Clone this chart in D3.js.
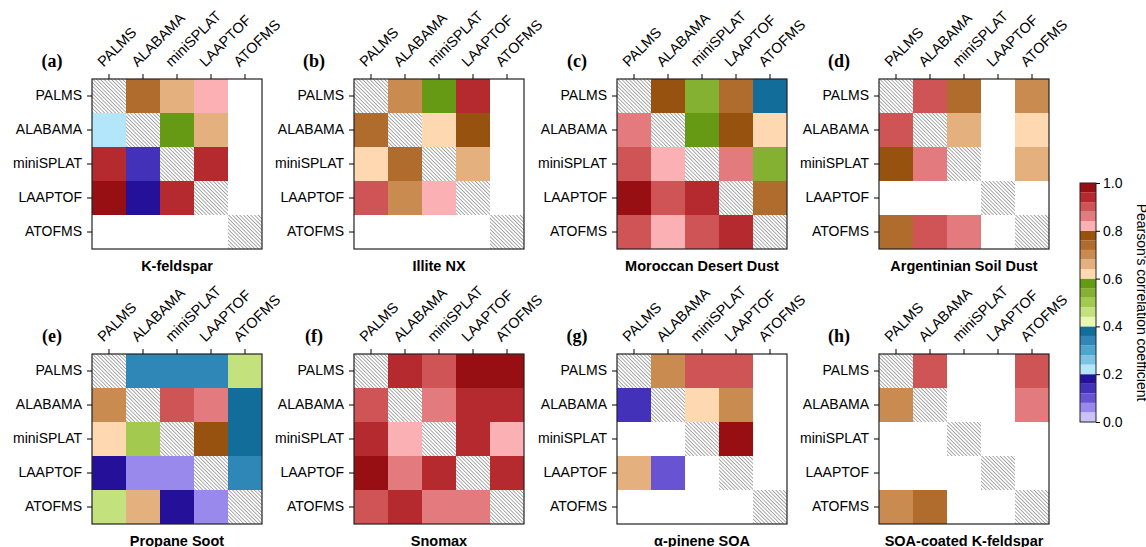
<!DOCTYPE html>
<html>
<head>
<meta charset="utf-8">
<script src="https://cdn.jsdelivr.net/npm/d3@7"></script>
<style>
  body { margin: 0; background: #fff; }
  text { font-family: "Liberation Sans", Arial, sans-serif; }
</style>
</head>
<body>
<svg id="chart" width="1146" height="547"></svg>
<script>
// instruments, same order on both axes
const instruments = ["PALMS", "ALABAMA", "miniSPLAT", "LAAPTOF", "ATOFMS"];

// panel letters and titles
const letters = ["(a)", "(b)", "(c)", "(d)", "(e)", "(f)", "(g)", "(h)"];
const titles = ["K-feldspar", "Illite NX", "Moroccan Desert Dust", "Argentinian Soil Dust",
                "Propane Soot", "Snomax", "\u03b1-pinene SOA", "SOA-coated K-feldspar"];

// correlation matrices, rows x columns; null = no data, diagonal is hatched
const kFeldspar = [
  [null, 0.74, 0.66, 0.82, null],
  [0.22, null, 0.58, 0.66, null],
  [0.94, 0.14, null, 0.94, null],
  [0.98, 0.18, 0.94, null, null],
  [null, null, null, null, null]
];
const illiteNX = [
  [null, 0.70, 0.58, 0.94, null],
  [0.74, null, 0.62, 0.78, null],
  [0.62, 0.74, null, 0.66, null],
  [0.90, 0.70, 0.82, null, null],
  [null, null, null, null, null]
];
const moroccanDust = [
  [null, 0.78, 0.54, 0.74, 0.38],
  [0.86, null, 0.58, 0.78, 0.62],
  [0.90, 0.82, null, 0.86, 0.54],
  [0.98, 0.90, 0.94, null, 0.74],
  [0.90, 0.82, 0.90, 0.94, null]
];
const argentinianDust = [
  [null, 0.90, 0.74, null, 0.70],
  [0.90, null, 0.66, null, 0.62],
  [0.78, 0.86, null, null, 0.66],
  [null, null, null, null, null],
  [0.74, 0.90, 0.86, null, null]
];
const propaneSoot = [
  [null, 0.34, 0.34, 0.34, 0.46],
  [0.70, null, 0.90, 0.86, 0.38],
  [0.62, 0.50, null, 0.78, 0.38],
  [0.18, 0.06, 0.06, null, 0.34],
  [0.46, 0.66, 0.18, 0.06, null]
];
const snomax = [
  [null, 0.94, 0.90, 0.98, 0.98],
  [0.90, null, 0.86, 0.94, 0.94],
  [0.94, 0.82, null, 0.94, 0.82],
  [0.98, 0.86, 0.94, null, 0.94],
  [0.90, 0.94, 0.86, 0.86, null]
];
const pineneSOA = [
  [null, 0.70, 0.90, 0.90, null],
  [0.14, null, 0.62, 0.70, null],
  [null, null, null, 0.98, null],
  [0.66, 0.10, null, null, null],
  [null, null, null, null, null]
];
const soaKFeldspar = [
  [null, 0.90, null, null, 0.90],
  [0.70, null, null, null, 0.86],
  [null, null, null, null, null],
  [null, null, null, null, null],
  [0.70, 0.74, null, null, null]
];
const matrices = [kFeldspar, illiteNX, moroccanDust, argentinianDust,
                  propaneSoot, snomax, pineneSOA, soaKFeldspar];

// 25 discrete colours, 0.04 wide each, from 0 up to 1
const palette = [
  "#cbc2f9", "#9a89ec", "#6854d3", "#4431b9", "#25109a",
  "#b4e6fb", "#7dc4e4", "#4ea6cf", "#2e87b7", "#126d9b",
  "#e8f8b2", "#c3e27e", "#a3c94f", "#84b131", "#669a14",
  "#fdd8b1", "#e4b07e", "#ca8b51", "#b06c2c", "#985210",
  "#fbb0b4", "#e37b7e", "#cf5455", "#b42a2e", "#980f13"
];
const cbTicks = [0, 0.2, 0.4, 0.6, 0.8, 1.0];

const color = d3.scaleQuantize().domain([0, 1]).range(palette);

const svg = d3.select("#chart");

// hatch for the diagonal ("\\\\" direction)
const defs = svg.append("defs");
const pat = defs.append("pattern")
  .attr("id", "hatch")
  .attr("patternUnits", "userSpaceOnUse")
  .attr("width", 2.6).attr("height", 2.6)
  .attr("patternTransform", "rotate(-45)");
pat.append("rect").attr("width", 2.6).attr("height", 2.6).attr("fill", "#fff");
pat.append("line")
  .attr("x1", 0).attr("y1", 0).attr("x2", 0).attr("y2", 2.6)
  .attr("stroke", "#666").attr("stroke-width", 1.1);

const size = 170;
const colX = [92, 354, 617, 879];
const rowY = [79, 354];

matrices.forEach((m, k) => {
  const px = colX[k % 4], py = rowY[Math.floor(k / 4)];
  const g = svg.append("g").attr("transform", "translate(" + px + "," + py + ")");

  const x = d3.scaleBand().domain(instruments).range([0, size]);
  const y = d3.scaleBand().domain(instruments).range([0, size]);

  const cells = [];
  m.forEach((row, i) => row.forEach((v, j) => {
    cells.push({ r: instruments[i], c: instruments[j], v: v, diag: i === j });
  }));

  g.selectAll("rect.cell")
    .data(cells)
    .enter()
    .append("rect")
    .attr("class", "cell")
    .attr("x", d => x(d.c))
    .attr("y", d => y(d.r))
    .attr("width", x.bandwidth())
    .attr("height", y.bandwidth())
    .attr("fill", d => d.diag ? "url(#hatch)" : (d.v == null ? "#fff" : color(d.v)));

  g.append("rect")
    .attr("width", size).attr("height", size)
    .attr("fill", "none").attr("stroke", "#222").attr("stroke-width", 1.2);

  // left axis
  const yAxis = g.append("g")
    .call(d3.axisLeft(y).tickSize(5).tickPadding(5));
  yAxis.select(".domain").remove();
  yAxis.selectAll("text").attr("font-size", 14).attr("fill", "#000")
    .style("font-family", "'Liberation Sans', Arial, sans-serif");

  // top axis, rotated labels
  const xAxis = g.append("g")
    .call(d3.axisTop(x).tickSize(5).tickPadding(0));
  xAxis.select(".domain").remove();
  xAxis.selectAll("text")
    .attr("font-size", 14.5).attr("fill", "#000")
    .style("font-family", "'Liberation Sans', Arial, sans-serif")
    .attr("text-anchor", "start")
    .attr("dy", null)
    .attr("transform", "translate(-2,-8) rotate(-45)");

  g.append("text")
    .attr("x", -40).attr("y", -12)
    .attr("text-anchor", "middle")
    .attr("font-size", 18).attr("font-weight", "bold")
    .style("font-family", "'Liberation Serif', 'Times New Roman', serif")
    .text(letters[k]);

  g.append("text")
    .attr("x", size / 2).attr("y", size + 22)
    .attr("text-anchor", "middle")
    .attr("font-size", 14.5).attr("font-weight", "bold")
    .text(titles[k]);
});

// colour bar
const cbX = 1080, cbTop = 183, cbH = 239, cbW = 16;
const cbScale = d3.scaleLinear().domain([0, 1]).range([cbTop + cbH, cbTop]);
const cb = svg.append("g");
cb.selectAll("rect")
  .data(palette)
  .enter()
  .append("rect")
  .attr("x", cbX)
  .attr("y", (d, i) => cbScale((i + 1) / palette.length))
  .attr("width", cbW)
  .attr("height", (d, i) => cbScale(i / palette.length) - cbScale((i + 1) / palette.length))
  .attr("fill", d => d);
cb.append("rect")
  .attr("x", cbX).attr("y", cbTop).attr("width", cbW).attr("height", cbH)
  .attr("fill", "none").attr("stroke", "#222").attr("stroke-width", 1);
const cbAxis = cb.append("g")
  .attr("transform", "translate(" + (cbX + cbW) + ",0)")
  .call(d3.axisRight(cbScale).tickValues(cbTicks).tickFormat(d3.format(".1f")).tickSize(4).tickPadding(3));
cbAxis.select(".domain").remove();
cbAxis.selectAll("text").attr("font-size", 14).attr("fill", "#000")
  .style("font-family", "'Liberation Sans', Arial, sans-serif");

svg.append("text")
  .attr("transform", "translate(1137," + (cbTop + cbH / 2) + ") rotate(90)")
  .attr("text-anchor", "middle")
  .attr("font-size", 14)
  .text("Pearson's correlation coefficient");
</script>
</body>
</html>
